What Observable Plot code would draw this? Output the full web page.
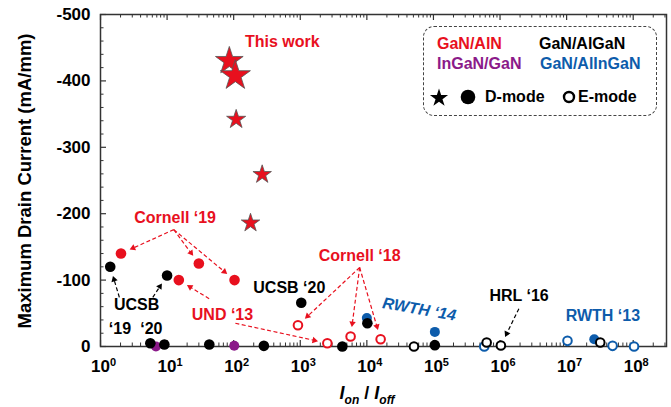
<!DOCTYPE html>
<html><head><meta charset="utf-8">
<script src="https://cdn.jsdelivr.net/npm/d3@7"></script>
<script src="https://cdn.jsdelivr.net/npm/@observablehq/plot@0.6"></script>
<style>
body{margin:0;background:#fff;}
#wrap{position:relative;width:671px;height:407px;font-family:"Liberation Sans",Arial,sans-serif;}
.leg{position:absolute;left:423px;top:26px;width:234px;height:90px;border:1.3px dashed #444;border-radius:11px;box-sizing:border-box;}
.lt{position:absolute;font-weight:bold;font-size:16px;line-height:16px;white-space:nowrap;}
#legsym{position:absolute;left:0;top:0;overflow:visible;}
</style></head><body><div id="wrap"></div>
<script>
// ---------- data (Ion/Ioff , maximum drain current mA/mm) ----------
const seriesNames  = ["GaN/AlN", "GaN/AlGaN", "InGaN/GaN", "GaN/AlInGaN"];
const seriesColors = ["#e8101e", "#000000", "#8b1a89", "#0d5cab"];

// GaN/AlN, this work (stars, D-mode)
const thisWorkOnOff   = [86, 106, 109, 268, 179];
const thisWorkCurrent = [-430, -408, -342, -259, -186];
// GaN/AlN D-mode
const alnDOnOff   = [2.03, 30, 103, 15];
const alnDCurrent = [-140, -125, -100, -100];
// GaN/AlN E-mode
const alnEOnOff   = [923, 2550, 5700, 16100];
const alnECurrent = [-32, -5, -15, -11];
// GaN/AlGaN D-mode
const alganDOnOff   = [1.4, 10, 1035, 10180, 5.6, 9.1, 43, 284, 4280, 105000];
const alganDCurrent = [-120, -107, -66, -35, -5, -3, -3, -1, 0, -2];
// GaN/AlGaN E-mode
const alganEOnOff   = [51000, 630000, 1030000, 32000000];
const alganECurrent = [0, -6, -1.5, -6];
// InGaN/GaN D-mode
const inganDOnOff   = [6.8, 102];
const inganDCurrent = [0, -1];
// GaN/AlInGaN D-mode
const alinganDOnOff   = [10000, 105000, 26000000];
const alinganDCurrent = [-43, -22, -11];
// GaN/AlInGaN E-mode
const alinganEOnOff   = [580000, 10300000, 49000000, 103000000];
const alinganECurrent = [0, -8.5, -1, 0];

// tick values
const xMajor = [1, 10, 100, 1e3, 1e4, 1e5, 1e6, 1e7, 1e8];
const yMajor = [0, -100, -200, -300, -400, -500];
const yMinor = [-20,-40,-60,-80,-120,-140,-160,-180,-220,-240,-260,-280,-320,-340,-360,-380,-420,-440,-460,-480];
const xDomain = [1, Math.pow(10, 8.5)];

// annotation labels
const labelTexts = ["This work", "Cornell \u201819", "UCSB", "\u201819", "\u201820", "UND \u201813",
                    "UCSB \u201820", "Cornell \u201818", "HRL \u201816", "RWTH \u201813"];
const labelX = [536, 13.2, 3.48, 1.96, 5.8, 67.9, 684, 7800, 1.93e6, 3.5e7];
const labelY = [-459, -194, -62, -27, -27, -48, -89, -137, -76, -46];
const labelSeries = [0, 0, 1, 1, 1, 0, 1, 0, 1, 3];
const rwth14 = {text: "RWTH \u201814", x: 61500, y: -56};

// ---------- layout ----------
const W = 671, H = 407, mL = 100, mR = 5, mT = 14, mB = 61;
const fw = W - mL - mR, fh = H - mT - mB;
const red = seriesColors[0], blk = seriesColors[1], pur = seriesColors[2], blu = seriesColors[3];

const zip = (xs, ys) => xs.map((x, i) => ({x, y: ys[i]}));
const stars = zip(thisWorkOnOff, thisWorkCurrent).map((d, i) => ({...d, r: [8.7, 9.45, 6, 5.8, 5.8][i]}));

const xMinor = [];
for (let e = 0; e <= 8; e++) for (let k = 2; k <= 9; k++) { const v = k * Math.pow(10, e); if (v < xDomain[1]) xMinor.push(v); }

// arrows (from label to a data point)
const arrowSpecs = [
  {from: [12.6, -176], to: [alnDOnOff[0], alnDCurrent[0]], c: red},
  {from: [12.6, -176], to: [alnDOnOff[1], alnDCurrent[1]], c: red},
  {from: [12.6, -176], to: [alnDOnOff[2], alnDCurrent[2]], c: red},
  {from: [42.8, -72], to: [alnDOnOff[3], alnDCurrent[3]], c: red},
  {from: [106, -35], to: [alnEOnOff[1], alnECurrent[1]], c: red},
  {from: [7800, -119], to: [alnEOnOff[0], alnECurrent[0]], c: red},
  {from: [7800, -119], to: [alnEOnOff[2], alnECurrent[2]], c: red},
  {from: [7800, -119], to: [alnEOnOff[3], alnECurrent[3]], c: red},
  {from: [1.92, -74], to: [alganDOnOff[0], alganDCurrent[0]], c: blk},
  {from: [6.1, -74], to: [alganDOnOff[1], alganDCurrent[1]], c: blk},
  {from: [1.92e6, -57], to: [alganEOnOff[2], alganECurrent[2]], c: blk}
];
const xs = Plot.scale({x: {type: "log", domain: xDomain, range: [mL, W - mR]}});
const ys = Plot.scale({y: {type: "linear", domain: [0, -500], range: [H - mB, mT]}});
const HR = 2.4, hy = HR * Math.sqrt(Math.PI / (3 * Math.sqrt(3)));
const arrowRows = arrowSpecs.map(a => {
  const p1 = [xs.apply(a.from[0]), ys.apply(a.from[1])];
  const p2 = [xs.apply(a.to[0]), ys.apply(a.to[1])];
  const dx = p2[0] - p1[0], dy = p2[1] - p1[1], L = Math.hypot(dx, dy);
  const ux = dx / L, uy = dy / L, gap = 9.5;
  const tip = [p2[0] - ux * gap, p2[1] - uy * gap];
  const c = [tip[0] - ux * 2 * hy, tip[1] - uy * 2 * hy];
  return {x1: a.from[0], y1: a.from[1], x2: xs.invert(c[0]), y2: ys.invert(c[1]),
          rot: Math.atan2(ux, -uy) * 180 / Math.PI, color: a.c};
});

const labels = labelTexts.map((t, i) => ({text: t, x: labelX[i], y: labelY[i], color: seriesColors[labelSeries[i]]}));

const chart = Plot.plot({
  width: W, height: H, marginLeft: mL, marginRight: mR, marginTop: mT, marginBottom: mB,
  style: {fontFamily: '"Liberation Sans", Arial, sans-serif', fontWeight: "bold", fontSize: "17px", background: "white", color: "black"},
  x: {type: "log", domain: xDomain},
  y: {type: "linear", domain: [0, -500]},
  r: {type: "identity"},
  marks: [
    Plot.frame({stroke: "#333", strokeWidth: 1.5}),
    Plot.tickX(xMajor, {x: d => d, insetTop: fh - 6, stroke: "#333", strokeWidth: 1.2}),
    Plot.tickX(xMinor, {x: d => d, insetTop: fh - 3.5, stroke: "#333", strokeWidth: 1}),
    Plot.tickX(xMajor, {x: d => d, insetBottom: fh - 6, stroke: "#333", strokeWidth: 1.2}),
    Plot.tickX(xMinor, {x: d => d, insetBottom: fh - 3.5, stroke: "#333", strokeWidth: 1}),
    Plot.tickY(yMajor, {y: d => d, insetRight: fw - 6, stroke: "#333", strokeWidth: 1.2}),
    Plot.tickY(yMinor, {y: d => d, insetRight: fw - 3.5, stroke: "#333", strokeWidth: 1}),
    Plot.axisY({ticks: yMajor, tickSize: 0, tickPadding: 10, tickFormat: d => String(d), label: null}),
    Plot.axisX({ticks: xMajor, tickSize: 0, tickPadding: 13, tickFormat: d => "10^" + Math.round(Math.log10(d)), label: null}),
    // arrows
    Plot.link(arrowRows, {x1: "x1", y1: "y1", x2: "x2", y2: "y2", stroke: "color", strokeWidth: 1.2, strokeDasharray: "4,2.5"}),
    Plot.dot(arrowRows, {x: "x2", y: "y2", symbol: "triangle", r: HR, rotate: "rot", fill: "color", stroke: "none"}),
    // points
    Plot.dot(zip(alinganDOnOff, alinganDCurrent), {x: "x", y: "y", r: 5, fill: blu}),
    Plot.dot(zip(alinganEOnOff, alinganECurrent), {x: "x", y: "y", r: 4.3, fill: "white", stroke: blu, strokeWidth: 2}),
    Plot.dot(zip(inganDOnOff, inganDCurrent), {x: "x", y: "y", r: 5, fill: pur}),
    Plot.dot(zip(alganDOnOff, alganDCurrent), {x: "x", y: "y", r: 5.3, fill: blk}),
    Plot.dot(zip(alganEOnOff, alganECurrent), {x: "x", y: "y", r: 4.3, fill: "white", stroke: blk, strokeWidth: 2}),
    Plot.dot(zip(alnDOnOff, alnDCurrent), {x: "x", y: "y", r: 5.3, fill: red}),
    Plot.dot(zip(alnEOnOff, alnECurrent), {x: "x", y: "y", r: 4.3, fill: "white", stroke: red, strokeWidth: 2}),
    Plot.dot(stars, {x: "x", y: "y", r: "r", symbol: "star", fill: red, stroke: "#555", strokeWidth: 0.8, sort: null}),
    // labels
    Plot.text(labels, {x: "x", y: "y", text: "text", fill: "color", fontSize: 16, fontWeight: "bold"}),
    Plot.text([rwth14], {x: "x", y: "y", text: "text", fill: blu, fontSize: 16, fontWeight: "bold", fontStyle: "italic", rotate: 10})
  ]
});

const svg = d3.select(chart);
// superscript x tick labels
svg.selectAll('g[aria-label="x-axis tick label"] text').each(function () {
  const m = (this.textContent || "").match(/^10\^(\d+)$/);
  if (!m) return;
  this.textContent = "10";
  const ts = document.createElementNS("http://www.w3.org/2000/svg", "tspan");
  ts.setAttribute("dy", "-0.5em");
  ts.setAttribute("font-size", "11");
  ts.textContent = m[1];
  this.appendChild(ts);
  this.setAttribute("dx", "3");
});
// x title
const xt = svg.append("text").attr("x", 367).attr("y", 399).attr("text-anchor", "middle")
  .attr("font-size", 18).attr("font-weight", "bold").attr("fill", "black");
xt.append("tspan").attr("font-style", "italic").text("I");
xt.append("tspan").attr("font-style", "italic").attr("font-size", 12).attr("dy", 5).text("on");
xt.append("tspan").attr("dy", -5).text(" / ");
xt.append("tspan").attr("font-style", "italic").text("I");
xt.append("tspan").attr("font-style", "italic").attr("font-size", 12).attr("dy", 5).text("off");
// y title
svg.append("text").attr("transform", "translate(31,181) rotate(-90)").attr("text-anchor", "middle")
  .attr("font-size", 18.5).attr("font-weight", "bold").attr("fill", "black")
  .text("Maximum Drain Current (mA/mm)");

const wrap = document.getElementById("wrap");
wrap.appendChild(chart);

// legend
const leg = document.createElement("div");
leg.className = "leg";
wrap.appendChild(leg);
const legItems = [
  {t: seriesNames[0], c: seriesColors[0], l: 437, tp: 36},
  {t: seriesNames[1], c: seriesColors[1], l: 539, tp: 36},
  {t: seriesNames[2], c: seriesColors[2], l: 437, tp: 56},
  {t: seriesNames[3], c: seriesColors[3], l: 540, tp: 56},
  {t: "D-mode", c: "#000", l: 485, tp: 89},
  {t: "E-mode", c: "#000", l: 578, tp: 89}
];
for (const it of legItems) {
  const s = document.createElement("span");
  s.className = "lt"; s.textContent = it.t; s.style.color = it.c;
  s.style.left = it.l + "px"; s.style.top = it.tp + "px";
  wrap.appendChild(s);
}
const ls = d3.select(wrap).append("svg").attr("id", "legsym").attr("width", W).attr("height", H);
ls.append("path").attr("d", d3.symbol(d3.symbolStar, Math.PI * 5.7 * 5.7)()).attr("transform", "translate(439,98)").attr("fill", "black");
ls.append("circle").attr("cx", 468).attr("cy", 97).attr("r", 7.3).attr("fill", "black");
ls.append("circle").attr("cx", 569).attr("cy", 97).attr("r", 5).attr("fill", "white").attr("stroke", "black").attr("stroke-width", 2.4);
</script>
</body></html>
